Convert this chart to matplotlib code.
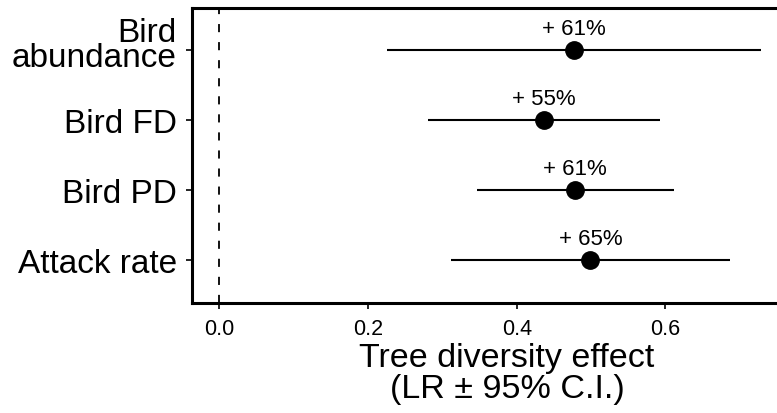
import matplotlib
matplotlib.use("Agg")
import matplotlib.pyplot as plt
from matplotlib.transforms import ScaledTranslation

categories = ["Bird\nabundance", "Bird FD", "Bird PD", "Attack rate"]
estimates = [0.477, 0.436, 0.478, 0.499]
ci_low = [0.226, 0.281, 0.347, 0.312]
ci_high = [0.728, 0.592, 0.611, 0.687]
labels = ["+ 61%", "+ 55%", "+ 61%", "+ 65%"]
xticks = [0.0, 0.2, 0.4, 0.6]
xticklabels = ["0.0", "0.2", "0.4", "0.6"]

plt.rcParams['font.family'] = ['Liberation Sans', 'DejaVu Sans']

fig = plt.figure(figsize=(7.77, 4.14), dpi=100)
ax = fig.add_axes([192/777, 1 - 303.5/414, 1 - 192/777 + 0.001, (303.5 - 9)/414])

n = len(categories)
ypos = [n - i for i in range(n)]

ax.axvline(0, color='black', lw=1.3, dashes=(4.5, 5.5), zorder=1)
for y, e, lo, hi, lab in zip(ypos, estimates, ci_low, ci_high, labels):
    ax.plot([lo, hi], [y, y], color='black', lw=1.5, solid_capstyle='butt', zorder=2)
    ax.plot([e], [y], 'o', color='black', ms=12.5, zorder=3)
    ax.annotate(lab, (e, y), xytext=(0, 8), textcoords='offset points',
                ha='center', va='bottom', fontsize=16)

ax.set_xlim(-0.0368, 0.751)
ax.set_ylim(0.4, 4.6)
ax.set_yticks(ypos)
tick_len, tick_pad = 4, 7
# multi-line category label is drawn as its own text, nudged slightly above its tick
ax.set_yticklabels([c if "\n" not in c else "" for c in categories], fontsize=24)
for y, c in zip(ypos, categories):
    if "\n" in c:
        tr = ax.get_yaxis_transform() + ScaledTranslation(
            -(tick_len + tick_pad) / 72, 0.05, fig.dpi_scale_trans)
        ax.text(0, y, c, transform=tr, ha='right', va='center',
                fontsize=24, linespacing=0.78, clip_on=False)
ax.set_xticks(xticks)
ax.set_xticklabels(xticklabels, fontsize=15.5)

for s in ['left', 'bottom', 'top']:
    ax.spines[s].set_linewidth(2.2)
ax.spines['right'].set_visible(False)
ax.tick_params(axis='both', direction='out', length=tick_len, width=1.2, color='black')
ax.tick_params(axis='y', pad=tick_pad)
ax.tick_params(axis='x', pad=7)

ax.set_xlabel("Tree diversity effect\n(LR ± 95% C.I.)", fontsize=24.5, linespacing=1.0)
ax.xaxis.set_label_coords(0.5376, -0.133, transform=ax.transAxes)
ax.xaxis.label.set_va('top')

fig.savefig("out.png", dpi=100)
